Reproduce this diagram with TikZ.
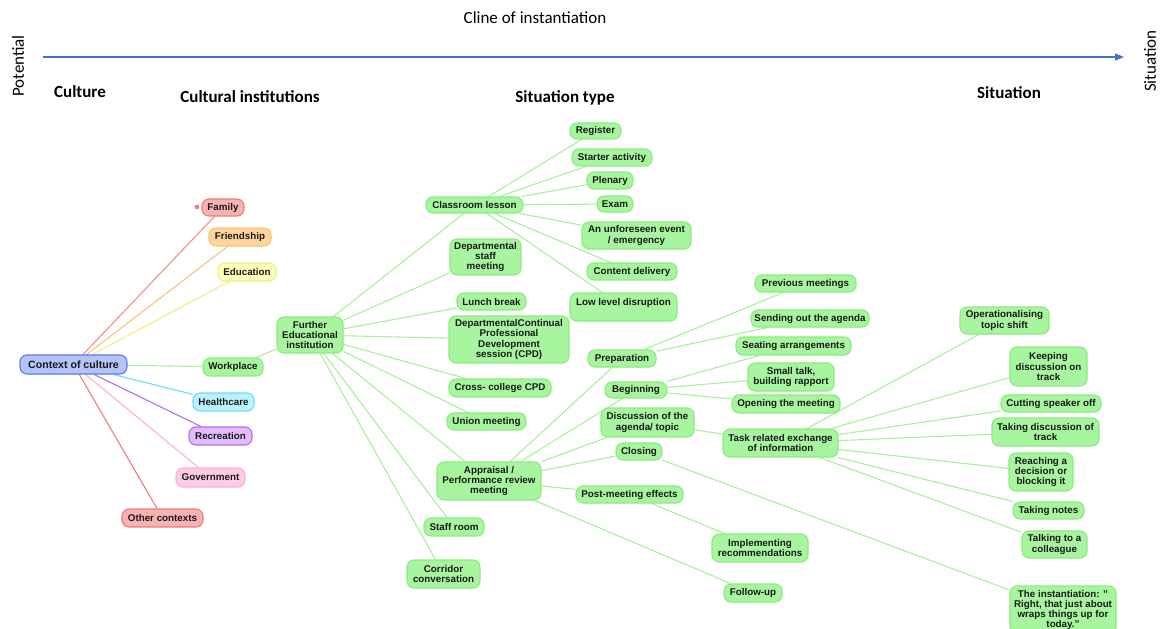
\documentclass[tikz,border=0pt]{standalone}
\usepackage{fontspec}
\setmainfont{Liberation Sans}
\newfontfamily\headfont{Carlito}
\usetikzlibrary{arrows.meta}
\pgfdeclarelayer{background}
\pgfsetlayers{background,main}

% palette
\definecolor{gfill}{HTML}{A8F5A0}
\definecolor{gline}{HTML}{8CEB80}
\definecolor{gedge}{HTML}{A6F19A}
\definecolor{bfill}{HTML}{B4C3FA}
\definecolor{bline}{HTML}{5A78F0}
\definecolor{rfill}{HTML}{F7B2B2}
\definecolor{rline}{HTML}{F07A7A}
\definecolor{ofill}{HTML}{FFD49C}
\definecolor{oline}{HTML}{FFBE78}
\definecolor{yfill}{HTML}{FFFFBC}
\definecolor{yline}{HTML}{EEEE7C}
\definecolor{cfill}{HTML}{BCF2FF}
\definecolor{cline}{HTML}{6EDAF5}
\definecolor{pfill}{HTML}{E2BCFF}
\definecolor{pline}{HTML}{B46EF0}
\definecolor{kfill}{HTML}{FFCAE6}
\definecolor{kline}{HTML}{FFAED6}
\definecolor{axis}{HTML}{4472C4}

\tikzset{
  mm/.style={draw, rounded corners=7pt, line width=1.1pt, align=center,
    inner sep=1pt, text=black!90,
    font=\fontsize{9.8}{10.2}\selectfont\bfseries},
  gbox/.style={mm, fill=gfill, draw=gline},
  bbox/.style={mm, fill=bfill, draw=bline},
  rbox/.style={mm, fill=rfill, draw=rline},
  obox/.style={mm, fill=ofill, draw=oline},
  ybox/.style={mm, fill=yfill, draw=yline},
  cbox/.style={mm, fill=cfill, draw=cline},
  pbox/.style={mm, fill=pfill, draw=pline},
  kbox/.style={mm, fill=kfill, draw=kline},
  sz/.style 2 args={minimum width=#1pt, minimum height=#2pt},
  link/.style={line width=1.1pt, draw=gedge},
  head/.style={font=\headfont\fontsize{17}{20}\selectfont\bfseries},
  plain/.style={font=\headfont\fontsize{17}{20}\selectfont},
}

\begin{document}
\begin{tikzpicture}[x=1pt, y=-1pt]
\useasboundingbox (0,0) rectangle (1165,629);

% cline of instantiation
\node[plain] (cline) at (535,18) {Cline of instantiation};
\coordinate (axs) at (43,57);
\coordinate (axe) at (1124,57);
\draw[axis, line width=1.1pt, -{Triangle[length=9pt,width=7pt]}] (axs) -- (axe);
\node[plain, rotate=90] (pot) at (18,66) {Potential};
\node[plain, rotate=90] (sit) at (1150,61) {Situation};

% column headings
\node[head] (hcult) at (80,92) {Culture};
\node[head] (hinst) at (250,97) {Cultural institutions};
\node[head] (htype) at (565,98) {Situation type};
\node[head] (hsit) at (1009,93) {Situation};

% culture
\node[bbox, sz={107}{19}, font=\fontsize{10.6}{11}\selectfont\bfseries] (coc) at (73.5,364.5) {Context of culture};
\node[rbox, sz={42}{17}] (family) at (223,207.5) {Family};
\fill[rline] (197,207) circle (2.3pt);
\node[obox, sz={62}{18}] (friend) at (240,237) {Friendship};
\node[ybox, sz={58}{18}] (educ) at (247,272) {Education};
\node[gbox, sz={60}{18}] (work) at (233,367) {Workplace};
\node[cbox, sz={61}{18}] (health) at (223.5,402) {Healthcare};
\node[pbox, sz={63}{18}] (recre) at (220.5,436) {Recreation};
\node[kbox, sz={69}{19}] (govt) at (210.5,477.5) {Government};
\node[rbox, sz={81}{18}] (other) at (162.5,518) {Other contexts};

% institution
\node[gbox, sz={66}{36}] (fe) at (310,335) {Further\\Educational\\institution};

% situation types
\node[gbox, sz={97}{16}] (cl) at (474.5,205) {Classroom lesson};
\node[gbox, sz={71}{36}] (dsm) at (485.5,257) {Departmental\\staff\\meeting};
\node[gbox, sz={69}{17}] (lunch) at (491.5,301.5) {Lunch break};
\node[gbox, sz={120}{47}] (dcpd) at (509,339.5) {DepartmentalContinual\\Professional\\Development\\session (CPD)};
\node[gbox, sz={102}{18}] (cross) at (500,388) {Cross- college CPD};
\node[gbox, sz={79}{17}] (union) at (486.5,421.5) {Union meeting};
\node[gbox, sz={104}{38}] (appr) at (489,481) {Appraisal /\\Performance review\\meeting};
\node[gbox, sz={60}{18}] (staff) at (454,527) {Staff room};
\node[gbox, sz={73}{28}] (corr) at (443.5,574) {Corridor\\conversation};

% classroom lesson stages
\node[gbox, sz={51}{16}] (reg) at (595.5,131) {Register};
\node[gbox, sz={80}{17}] (starter) at (612,157.5) {Starter activity};
\node[gbox, sz={46}{17}] (plen) at (610,180.5) {Plenary};
\node[gbox, sz={36}{16}] (exam) at (615,204) {Exam};
\node[gbox, sz={109}{27}] (unfore) at (636.5,235.5) {An unforeseen event\\/ emergency};
\node[gbox, sz={90}{17}] (content) at (632,271.5) {Content delivery};
\node[gbox, sz={107}{28}] (lowlev) at (623.5,307) {Low level disruption\\\mbox{}};

% meeting stages
\node[gbox, sz={68}{17}] (prep) at (622,358.5) {Preparation};
\node[gbox, sz={62}{16}] (begin) at (636,390) {Beginning};
\node[gbox, sz={93}{29}] (disc) at (647.5,422.5) {Discussion of the\\agenda/ topic};
\node[gbox, sz={46}{17}] (closing) at (639,451.5) {Closing};
\node[gbox, sz={107}{17}] (post) at (629.5,494.5) {Post-meeting effects};
\node[gbox, sz={96}{28}] (impl) at (760,548) {Implementing\\recommendations};
\node[gbox, sz={58}{18}] (follow) at (753,593) {Follow-up};

\node[gbox, sz={101}{17}] (prev) at (805.5,283.5) {Previous meetings};
\node[gbox, sz={118}{17}] (send) at (810,318.5) {Sending out the agenda};
\node[gbox, sz={115}{18}] (seat) at (793.5,346) {Seating arrangements};
\node[gbox, sz={86}{28}] (small) at (791,377) {Small talk,\\building rapport};
\node[gbox, sz={108}{18}] (open) at (786,404) {Opening the meeting};
\node[gbox, sz={115}{28}] (task) at (780.5,443) {Task related exchange\\of information};

% situation
\node[gbox, sz={89}{27}] (oper) at (1004.5,320.5) {Operationalising\\topic shift};
\node[gbox, sz={77}{39}] (keep) at (1048.5,366.5) {Keeping\\discussion on\\track};
\node[gbox, sz={100}{17}] (cut) at (1051,403.5) {Cutting speaker off};
\node[gbox, sz={107}{28}] (takedisc) at (1045.5,432) {Taking discussion of\\track};
\node[gbox, sz={64}{38}] (reach) at (1041,472) {Reaching a\\decision or\\blocking it};
\node[gbox, sz={71}{17}] (notes) at (1048.5,510.5) {Taking notes};
\node[gbox, sz={65}{27}] (talk) at (1054.5,544.5) {Talking to a\\colleague};
\node[gbox, sz={106}{48}] (inst) at (1063,610) {The instantiation: "\\Right, that just about\\wraps things up for\\today."};

% branches
\begin{pgfonlayer}{background}
  \draw[line width=1.1pt, draw=rline!85] (coc) -- (family);
  \draw[line width=1.1pt, draw=oline] (coc) -- (friend);
  \draw[line width=1.1pt, draw=yline] (coc) -- (educ);
  \draw[link] (coc) -- (work);
  \draw[line width=1.1pt, draw=cline] (coc) -- (health);
  \draw[line width=1.1pt, draw=pline] (coc) -- (recre);
  \draw[line width=1.1pt, draw=kline] (coc) -- (govt);
  \draw[line width=1.1pt, draw=rline] (coc) -- (other);

  \draw[link] (work) -- (fe);
  \foreach \t in {cl,dsm,lunch,dcpd,cross,union,appr,staff,corr}
    \draw[link] (fe) -- (\t);
  \foreach \t in {reg,starter,plen,exam,unfore,content,lowlev}
    \draw[link] (cl) -- (\t);
  \foreach \t in {prep,begin,disc,closing,post,follow}
    \draw[link] (appr) -- (\t);
  \foreach \t in {prev,send}
    \draw[link] (prep) -- (\t);
  \foreach \t in {seat,small,open}
    \draw[link] (begin) -- (\t);
  \draw[link] (disc) -- (task);
  \draw[link] (post) -- (impl);
  \draw[link] (closing) -- (inst);
  \foreach \t in {oper,keep,cut,takedisc,reach,notes,talk}
    \draw[link] (task) -- (\t);
\end{pgfonlayer}
\end{tikzpicture}
\end{document}
